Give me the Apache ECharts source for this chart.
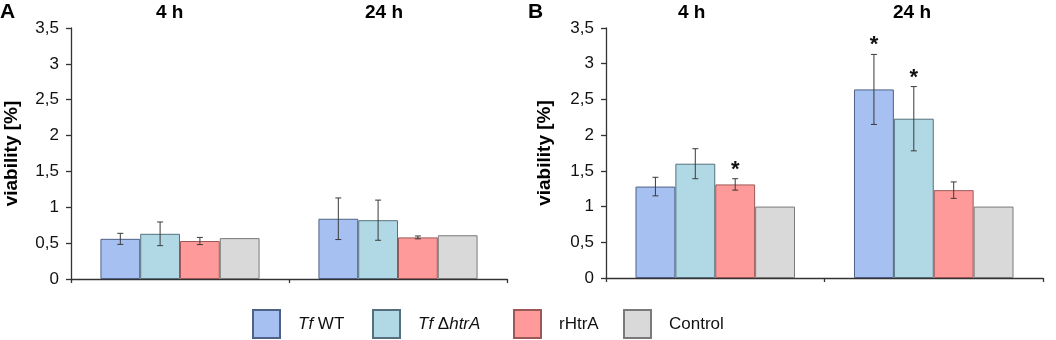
<!DOCTYPE html>
<html>
<head>
<meta charset="utf-8">
<script src="https://cdn.jsdelivr.net/npm/echarts@6/dist/echarts.min.js"></script>
<style>
  html, body { margin: 0; padding: 0; background: #fff; }
  #chart { width: 1056px; height: 340px; }
</style>
</head>
<body>
<div id="chart"></div>
<script>
const categories = ["4 h", "24 h"];
const seriesNames = ["Tf WT", "Tf ΔhtrA", "rHtrA", "Control"];
const yTicks = [0, 0.5, 1, 1.5, 2, 2.5, 3, 3.5];

// panel A
const wtA = [0.56, 0.84];
const delA = [0.63, 0.82];
const rhtA = [0.53, 0.58];
const ctrlA = [0.57, 0.61];
const wtAErr = [0.077, 0.29];
const delAErr = [0.165, 0.28];
const rhtAErr = [0.05, 0.02];
const ctrlAErr = [0, 0];

// panel B
const wtB = [1.28, 2.64];
const delB = [1.6, 2.23];
const rhtB = [1.31, 1.23];
const ctrlB = [1.0, 1.0];
const wtBErr = [0.13, 0.49];
const delBErr = [0.21, 0.45];
const rhtBErr = [0.08, 0.115];
const ctrlBErr = [0, 0];
const wtBSig = [false, true];
const delBSig = [false, true];
const rhtBSig = [true, false];

const colors = ["#a6c0f1", "#b1d9e5", "#ff9a9a", "#d9d9d9"];
const borders = ["#4f6186", "#55707c", "#9c5858", "#7a7a7a"];
const axisColor = "#333";
const font = "Liberation Sans, Arial, sans-serif";
const gapFrac = 0.27;

const chart = echarts.init(document.getElementById("chart"), null, { renderer: "canvas" });

const makeYAxis = (gridIndex, nameGap) => ({
  type: "value",
  gridIndex,
  min: 0,
  max: 3.5,
  interval: 0.5,
  name: "viability [%]",
  nameLocation: "middle",
  nameGap,
  nameRotate: 90,
  nameTextStyle: { fontFamily: font, fontSize: 19, fontWeight: "bold", color: "#000" },
  axisLine: { show: true, lineStyle: { color: axisColor, width: 1.3 } },
  axisTick: { show: true, length: 5, inside: false, lineStyle: { color: axisColor, width: 1.3 } },
  axisLabel: {
    fontFamily: font, fontSize: 17, color: "#111", margin: 12,
    formatter: (v) => String(v).replace(".", ","),
  },
  splitLine: { show: false },
});

const makeXAxis = (gridIndex) => ({
  type: "category",
  gridIndex,
  data: categories,
  axisLine: { show: true, lineStyle: { color: axisColor, width: 1.3 } },
  axisTick: { show: true, length: 4, alignWithLabel: false, lineStyle: { color: axisColor, width: 1.3 } },
  axisLabel: { show: false },
});

const barSeries = (name, data, idx, axisIndex) => ({
  name,
  type: "bar",
  xAxisIndex: axisIndex,
  yAxisIndex: axisIndex,
  data,
  barGap: "0%",
  barCategoryGap: (gapFrac * 100) + "%",
  itemStyle: { color: colors[idx], borderColor: borders[idx], borderWidth: 1 },
  silent: true,
});

const errData = (vals, errs, sIdx, sig) =>
  vals.map((v, i) => [i, v, errs[i], sIdx, sig ? (sig[i] ? 1 : 0) : 0]);

const errorSeries = (data, axisIndex) => ({
  type: "custom",
  xAxisIndex: axisIndex,
  yAxisIndex: axisIndex,
  data,
  encode: { x: 0, y: 1 },
  z: 5,
  silent: true,
  renderItem: (params, api) => {
    const cat = api.value(0);
    const val = api.value(1);
    const err = api.value(2);
    const s = api.value(3);
    const sig = api.value(4);
    const band = api.size([1, 0])[0];
    const barW = band * (1 - gapFrac) / 4;
    const cx = api.coord([cat, val])[0] + (s - 1.5) * barW;
    const children = [];
    const top = api.coord([cat, val + err])[1];
    const bot = api.coord([cat, val - err])[1];
    if (err > 0) {
      const st = { stroke: "#3a3a3a", lineWidth: 1 };
      children.push({ type: "line", shape: { x1: cx, y1: top, x2: cx, y2: bot }, style: st });
      children.push({ type: "line", shape: { x1: cx - 3, y1: top, x2: cx + 3, y2: top }, style: st });
      children.push({ type: "line", shape: { x1: cx - 3, y1: bot, x2: cx + 3, y2: bot }, style: st });
    }
    if (sig) {
      children.push({
        type: "text",
        style: {
          x: cx, y: top - 9, text: "*", fill: "#111",
          font: "bold 22px " + font, align: "center", verticalAlign: "middle",
        },
      });
    }
    return { type: "group", children };
  },
});

const legendFormatter = (name) => {
  if (name === "Tf WT") return "{i|Tf} WT";
  if (name === "Tf ΔhtrA") return "{i|Tf} Δ{i|htrA}";
  return name;
};
const legendLefts = [252, 372, 513, 623];
const legends = seriesNames.map((n, i) => ({
  data: [n],
  left: legendLefts[i],
  top: 309,
  padding: 0,
  itemWidth: 27,
  itemHeight: 28,
  icon: "rect",
  selectedMode: false,
  formatter: legendFormatter,
  textStyle: {
    fontFamily: font, fontSize: 17, color: "#111", padding: [0, 0, 0, 13],
    rich: { i: { fontFamily: font, fontSize: 17, fontStyle: "italic", color: "#111" } },
  },
}));

const textEl = (x, y, text, size) => ({
  type: "text",
  left: x,
  top: y,
  style: { text, font: "bold " + size + "px " + font, fill: "#000" },
});

const option = {
  animation: false,
  backgroundColor: "#fff",
  grid: [
    { left: 71, right: 549, top: 28, bottom: 61 },
    { left: 606, right: 13, top: 28, bottom: 62 },
  ],
  xAxis: [makeXAxis(0), makeXAxis(1)],
  yAxis: [makeYAxis(0, 50), makeYAxis(1, 52)],
  legend: legends,
  graphic: [
    textEl(0, 2, "A", 21),
    textEl(528, 2, "B", 21),
    textEl(156, 3, "4 h", 19),
    textEl(365, 3, "24 h", 19),
    textEl(678, 3, "4 h", 19),
    textEl(893, 3, "24 h", 19),
  ],
  series: [
    barSeries(seriesNames[0], wtA, 0, 0),
    barSeries(seriesNames[1], delA, 1, 0),
    barSeries(seriesNames[2], rhtA, 2, 0),
    barSeries(seriesNames[3], ctrlA, 3, 0),
    errorSeries([
      ...errData(wtA, wtAErr, 0),
      ...errData(delA, delAErr, 1),
      ...errData(rhtA, rhtAErr, 2),
      ...errData(ctrlA, ctrlAErr, 3),
    ], 0),
    barSeries(seriesNames[0], wtB, 0, 1),
    barSeries(seriesNames[1], delB, 1, 1),
    barSeries(seriesNames[2], rhtB, 2, 1),
    barSeries(seriesNames[3], ctrlB, 3, 1),
    errorSeries([
      ...errData(wtB, wtBErr, 0, wtBSig),
      ...errData(delB, delBErr, 1, delBSig),
      ...errData(rhtB, rhtBErr, 2, rhtBSig),
      ...errData(ctrlB, ctrlBErr, 3),
    ], 1),
  ],
};

chart.setOption(option);
</script>
</body>
</html>
